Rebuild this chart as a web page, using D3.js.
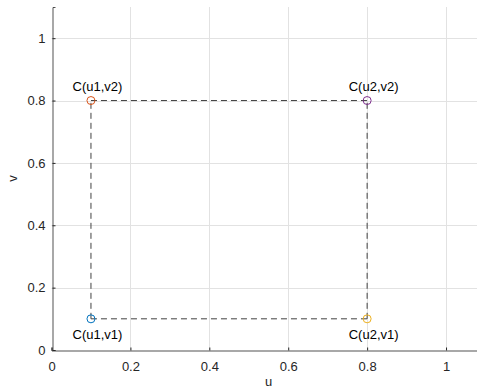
<!DOCTYPE html>
<html>
<head>
<meta charset="utf-8">
<script src="https://cdn.jsdelivr.net/npm/d3@7"></script>
<style>
  body { margin: 0; background: #fff; }
  svg { display: block; font-family: "Liberation Sans", Arial, sans-serif; }
</style>
</head>
<body>
<svg id="chart" width="477" height="389"></svg>
<script>
// corner points of the patch
const names = ["C(u1,v1)", "C(u1,v2)", "C(u2,v1)", "C(u2,v2)"];
const uVals = [0.1, 0.1, 0.8, 0.8];
const vVals = [0.1, 0.8, 0.1, 0.8];
const colors = ["#0072BD", "#D95319", "#EDB120", "#7E2F8E"];
const labelSide = ["below", "above", "below", "above"];

// dashed edges, as index pairs into the points
const edges = [[1, 3], [0, 2], [0, 1], [2, 3]];

const ticks = [0, 0.2, 0.4, 0.6, 0.8, 1];

const svg = d3.select("#chart");
const margin = {left: 51.5, top: 7, bottom: 39};
const x = d3.scaleLinear().domain([0, 1.1]).range([margin.left, margin.left + 434]);
const y = d3.scaleLinear().domain([0, 1.1]).range([389 - margin.bottom, margin.top]);

const axisColor = "#262626";

// grid
const grid = svg.append("g").attr("stroke", "#e2e2e2").attr("stroke-width", 1);
grid.selectAll("line.gx").data(ticks.slice(1)).join("line")
    .attr("x1", d => Math.round(x(d)) + 0.5).attr("x2", d => Math.round(x(d)) + 0.5)
    .attr("y1", y(0)).attr("y2", y(1.1));
grid.selectAll("line.gy").data(ticks.slice(1)).join("line")
    .attr("y1", d => Math.round(y(d)) + 0.5).attr("y2", d => Math.round(y(d)) + 0.5)
    .attr("x1", x(0)).attr("x2", x(1.1));

// axes, ticks pointing inward
const xAxis = svg.append("g")
    .attr("transform", `translate(0,${Math.round(y(0)) + 0.5})`)
    .call(d3.axisTop(x).tickValues(ticks).tickFormat(d3.format("~g")).tickSizeOuter(0).tickSize(3));
xAxis.selectAll("text").attr("y", 16).attr("dy", "0.32em");
const yAxis = svg.append("g")
    .attr("transform", `translate(${Math.round(x(0)) + 0.5},0)`)
    .call(d3.axisRight(y).tickValues(ticks).tickFormat(d3.format("~g")).tickSizeOuter(0).tickSize(3));
yAxis.selectAll("text").attr("x", -7).attr("text-anchor", "end");

[xAxis, yAxis].forEach(a => {
  a.select(".domain").attr("stroke", axisColor).attr("stroke-opacity", 0.8);
  a.selectAll(".tick line").attr("stroke", axisColor);
  a.selectAll(".tick text").attr("fill", axisColor).style("font-size", "13px");
  a.attr("font-family", null);
});

// axis titles
svg.append("text")
    .attr("x", x(0.55)).attr("y", 386)
    .attr("text-anchor", "middle").attr("fill", axisColor).style("font-size", "13px")
    .text("u");
svg.append("text")
    .attr("transform", `translate(17,${y(0.55)}) rotate(-90)`)
    .attr("text-anchor", "middle").attr("fill", axisColor).style("font-size", "13px")
    .text("v");

// dashed rectangle
svg.append("g").selectAll("line").data(edges).join("line")
    .attr("x1", d => x(uVals[d[0]])).attr("y1", d => y(vVals[d[0]]))
    .attr("x2", d => x(uVals[d[1]])).attr("y2", d => y(vVals[d[1]]))
    .attr("stroke", "#404040").attr("stroke-width", 1)
    .attr("stroke-dasharray", "6,4");

// corner markers
const pts = names.map((n, i) => ({name: n, u: uVals[i], v: vVals[i], color: colors[i], side: labelSide[i]}));
svg.append("g").selectAll("circle").data(pts).join("circle")
    .attr("cx", d => x(d.u)).attr("cy", d => y(d.v)).attr("r", 4)
    .attr("fill", "none").attr("stroke", d => d.color).attr("stroke-width", 1);

svg.append("g").selectAll("text").data(pts).join("text")
    .attr("x", d => x(d.u) + 6.5)
    .attr("y", d => y(d.v) + (d.side === "above" ? -10 : 20))
    .attr("text-anchor", "middle").attr("fill", "#000").style("font-size", "13px")
    .text(d => d.name);
</script>
</body>
</html>
